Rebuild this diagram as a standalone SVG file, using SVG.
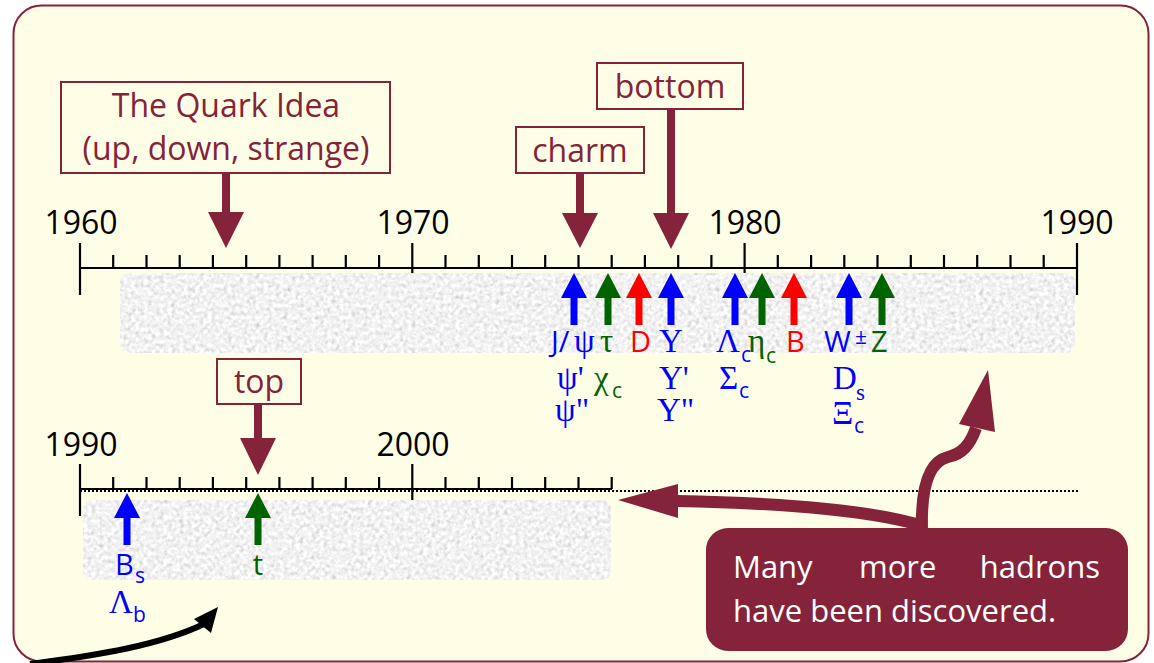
<svg xmlns="http://www.w3.org/2000/svg" width="1154" height="663" viewBox="0 0 1154 663">
<defs>
<style>
.yr{font-family:"Open Sans","Liberation Sans",sans-serif;font-size:32px;fill:#000}
.lbl{font-family:"Open Sans","Liberation Sans",sans-serif;font-size:32px;fill:#84233a}
.box{fill:none;stroke:#84233a;stroke-width:2}
.axis{stroke:#000;stroke-width:2.2;fill:none}
.dn{fill:#84233a}
.sans{font-family:"Open Sans","Liberation Sans",sans-serif;font-size:29px}
.sub{font-family:"Open Sans","Liberation Sans",sans-serif;font-size:21px}
.ser{font-family:"Liberation Serif","DejaVu Serif",serif;font-size:33px}
.b{fill:#0000ff}.g{fill:#006400}.r{fill:#ff0000}
.call{font-family:"Open Sans","Liberation Sans",sans-serif;font-size:31px;fill:#ffffff}
.mshaft{fill:none;stroke:#84233a;stroke-width:12}
</style>
<filter id="grain" x="0" y="0" width="1" height="1">
<feTurbulence type="fractalNoise" baseFrequency="0.25" numOctaves="3" seed="7" result="n"/>
<feColorMatrix in="n" type="matrix" values="0.35 0.35 0.35 0 0.36  0.35 0.35 0.35 0 0.36  0.35 0.35 0.35 0 0.36  0 0 0 0 1" result="gr"/>
<feComposite in="gr" in2="SourceAlpha" operator="in"/>
</filter>
<g id="upB"><path d="M0 0 L13 25 L3.5 25 L3.5 52 L-3.5 52 L-3.5 25 L-13 25 Z" fill="#0000ff"/></g>
<g id="upG"><path d="M0 0 L13 25 L3.5 25 L3.5 52 L-3.5 52 L-3.5 25 L-13 25 Z" fill="#006400"/></g>
<g id="upR"><path d="M0 0 L13 25 L3.5 25 L3.5 52 L-3.5 52 L-3.5 25 L-13 25 Z" fill="#ff0000"/></g>
</defs>

<rect id="frame" x="13.5" y="5.5" width="1135" height="656" rx="28" fill="#fefee6" stroke="#84233a" stroke-width="2"/>

<!-- top axis -->
<g id="axis1">
<path class="axis" d="M80 268 H1077"/>
<path class="axis" d="M80 243 V295 M412.3 243 V295 M744.6 243 V295 M1077 243 V295"/>
<path class="axis" d="M113.2 255V268 M146.5 255V268 M179.7 255V268 M212.9 255V268 M246.2 255V268 M279.4 255V268 M312.6 255V268 M345.8 255V268 M379.1 255V268 M445.5 255V268 M478.8 255V268 M512 255V268 M545.2 255V268 M578.5 255V268 M611.7 255V268 M644.9 255V268 M678.2 255V268 M711.4 255V268 M777.8 255V268 M811.1 255V268 M844.3 255V268 M877.5 255V268 M910.8 255V268 M944 255V268 M977.2 255V268 M1010.5 255V268 M1043.7 255V268"/>
<text class="yr" x="81" y="234" text-anchor="middle">1960</text>
<text class="yr" x="413" y="234" text-anchor="middle">1970</text>
<text class="yr" x="745" y="234" text-anchor="middle">1980</text>
<text class="yr" x="1077" y="234" text-anchor="middle">1990</text>
</g>
<rect id="band1" x="120" y="273" width="955" height="80" rx="9" fill="#e6e6e6" filter="url(#grain)"/>

<!-- bottom axis -->
<g id="axis2">
<path d="M80 491 H1080" stroke="#000" stroke-width="2" stroke-dasharray="2 2" fill="none"/>
<path class="axis" d="M80 489 H612"/>
<path class="axis" d="M80 464 V516 M412.3 464 V516"/>
<path class="axis" d="M113.2 477V489 M146.5 477V489 M179.7 477V489 M212.9 477V489 M246.2 477V489 M279.4 477V489 M312.6 477V489 M345.8 477V489 M379.1 477V489 M445.5 477V489 M478.8 477V489 M512 477V489 M545.2 477V489 M578.5 477V489 M611.7 477V489"/>
<text class="yr" x="81" y="456" text-anchor="middle">1990</text>
<text class="yr" x="413" y="456" text-anchor="middle">2000</text>
</g>
<rect id="band2" x="83" y="500" width="528" height="80" rx="9" fill="#e6e6e6" filter="url(#grain)"/>

<!-- quark boxes -->
<g id="quark">
<rect class="box" x="61" y="82" width="329" height="91"/>
<text class="lbl" x="226" y="117" text-anchor="middle">The Quark Idea</text>
<text class="lbl" x="226" y="160" text-anchor="middle">(up, down, strange)</text>
<path class="dn" d="M222 173 H230 V212 H244 L226 248 L208 212 H222 Z"/>
</g>
<g id="charm">
<rect class="box" x="516" y="127" width="128" height="46"/>
<text class="lbl" x="580" y="162" text-anchor="middle">charm</text>
<path class="dn" d="M576 173 H584 V213 H598 L580 248 L562 213 H576 Z"/>
</g>
<g id="bottom">
<rect class="box" x="597" y="63" width="146" height="46"/>
<text class="lbl" x="670" y="98" text-anchor="middle">bottom</text>
<path class="dn" d="M667 109 H675 V213 H689 L671 249 L653 213 H667 Z"/>
</g>
<g id="top">
<rect class="box" x="217" y="359" width="84" height="45"/>
<text class="lbl" x="259" y="393" text-anchor="middle">top</text>
<path class="dn" d="M254 404 H262 V438 H276 L258 475 L240 438 H254 Z"/>
</g>

<!-- particle arrows -->
<g id="particles">
<use href="#upB" x="574" y="273"/>
<use href="#upG" x="608" y="273"/>
<use href="#upR" x="639" y="273"/>
<use href="#upB" x="671" y="273"/>
<use href="#upB" x="735" y="273"/>
<use href="#upG" x="762" y="273"/>
<use href="#upR" x="794" y="273"/>
<use href="#upB" x="849" y="273"/>
<use href="#upG" x="882" y="273"/>
<use href="#upB" x="127" y="493"/>
<use href="#upG" x="258" y="493"/>
</g>

<g id="labels">
<text class="sans b" x="551" y="352">J/</text>
<text class="ser b" x="574" y="352">ψ</text>
<text class="ser g" x="600" y="352">τ</text>
<text class="sans r" x="630" y="352">D</text>
<text class="ser b" x="659" y="352">Υ</text>
<text class="ser b" x="716" y="352">Λ</text>
<text class="sub b" x="741" y="362">c</text>
<text class="ser g" x="748" y="352">η</text>
<text class="sub g" x="766" y="363">c</text>
<text class="sans r" x="786" y="352">B</text>
<text class="sans b" x="824" y="352">W</text>
<text class="sub b" x="855" y="344">±</text>
<text class="sans g" x="871" y="352">Z</text>

<text class="ser b" x="557" y="389">ψ'</text>
<text class="ser g" x="594" y="389">χ</text>
<text class="sub g" x="612" y="398">c</text>
<text class="ser b" x="659" y="389">Υ'</text>
<text class="ser b" x="719" y="389">Σ</text>
<text class="sub b" x="739" y="398">c</text>
<text class="ser b" x="833" y="389">D</text>
<text class="ser b" x="856" y="400" style="font-size:23px">s</text>

<text class="ser b" x="555" y="421">ψ"</text>
<text class="ser b" x="657" y="421">Υ"</text>
<text class="ser b" x="832" y="424">Ξ</text>
<text class="sub b" x="854" y="433">c</text>

<text class="sans b" x="115" y="575">B</text>
<text class="sub b" x="135" y="583">s</text>
<text class="ser b" x="109" y="613">Λ</text>
<text class="sub b" x="133" y="622">b</text>
<text class="sans g" x="258" y="575" text-anchor="middle">t</text>
</g>

<!-- connectors -->
<g id="connectors">
<path class="mshaft" d="M926 527 C880 512 790 503 676 501"/>
<path class="dn" d="M618 500 L678 484 L678 518 Z"/>
<path class="mshaft" d="M922 529 C921 490 928 462 948 457 C962 454 970 445 976 428"/>
<path class="dn" d="M988 370 L995 432 L959 424 Z"/>
<path d="M30 664 C100 655 160 645 204 624" fill="none" stroke="#000" stroke-width="6"/>
<path d="M218 607 L211 633 L194 619 Z" fill="#000"/>
</g>

<g id="callout">
<rect x="706" y="528" width="422" height="123" rx="22" fill="#84233a"/>
<text class="call" x="733" y="578">Many</text>
<text class="call" x="859" y="578">more</text>
<text class="call" x="1100" y="578" text-anchor="end">hadrons</text>
<text class="call" x="733" y="622">have been discovered.</text>
</g>
</svg>
